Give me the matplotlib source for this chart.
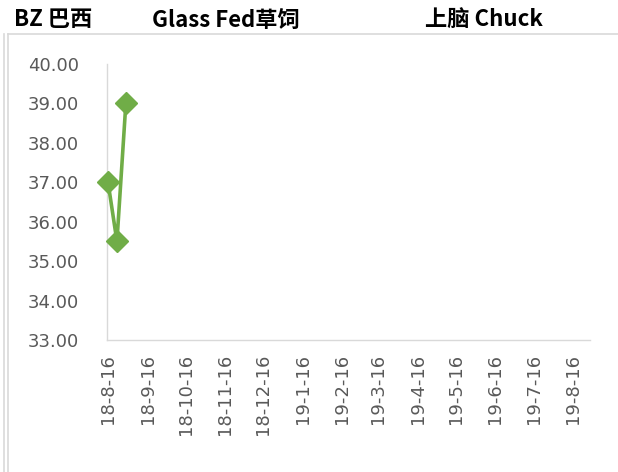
import matplotlib
matplotlib.use("Agg")
import matplotlib.pyplot as plt
import matplotlib.dates as mdates
from matplotlib.lines import Line2D
import datetime as dt

plt.rcParams['font.family'] = ['Noto Sans CJK SC', 'DejaVu Sans']

dates = [dt.date(2018, 8, 16), dt.date(2018, 8, 23), dt.date(2018, 8, 30)]
prices = [37.00, 35.50, 39.00]
tick_dates = [dt.date(2018 + (7 + i) // 12, (7 + i) % 12 + 1, 16) for i in range(13)]
tick_labels = [f"{d.year % 100}-{d.month}-{d.day}" for d in tick_dates]
y_ticks = [33, 34, 35, 36, 37, 38, 39, 40]
title_parts = ["BZ 巴西", "Glass Fed草饲", "上脑 Chuck"]

W, H = 618, 472
fig = plt.figure(figsize=(W / 100, H / 100), dpi=100)
ax = fig.add_axes([107 / W, (H - 340) / H, (590 - 107) / W, (340 - 64) / H])

green = '#70AD47'
ax.plot(dates, prices, color=green, lw=2.6, marker='D', markersize=11,
        markerfacecolor=green, markeredgecolor=green, solid_joinstyle='round',
        clip_on=False, zorder=3)

x0 = mdates.date2num(dt.date(2018, 8, 16))
x1 = mdates.date2num(dt.date(2019, 8, 16))
ax.set_xlim(x0 - 0.8, x1 + 13.3)
ax.set_ylim(33, 40)
ax.set_yticks(y_ticks)
ax.set_yticklabels([f"{v:.2f}" for v in y_ticks], family='DejaVu Sans')
ax.set_xticks([mdates.date2num(d) for d in tick_dates])
ax.set_xticklabels(tick_labels, rotation=90, family='DejaVu Sans')

ax.tick_params(axis='both', length=0, colors='#595959', labelsize=13)
ax.tick_params(axis='y', pad=20)
ax.tick_params(axis='x', pad=10)
for s in ['top', 'right']:
    ax.spines[s].set_visible(False)
for s in ['left', 'bottom']:
    ax.spines[s].set_color('#D9D9D9')
    ax.spines[s].set_linewidth(1.0)

# outer frame lines
fig.add_artist(Line2D([3.5 / W, 3.5 / W], [0, (H - 34) / H], color='#D9D9D9', lw=1.2))
fig.add_artist(Line2D([7.5 / W, 7.5 / W], [0, (H - 34) / H], color='#D9D9D9', lw=1.2))
fig.add_artist(Line2D([7.5 / W, 1], [(H - 34) / H, (H - 34) / H], color='#D9D9D9', lw=1.2))

xs = [14, 152, 425]
for x, t in zip(xs, title_parts):
    fig.text(x / W, (H - 20) / H, t, fontsize=16, fontweight='bold', color='black',
             ha='left', va='center')

fig.savefig('out.png', dpi=100)
